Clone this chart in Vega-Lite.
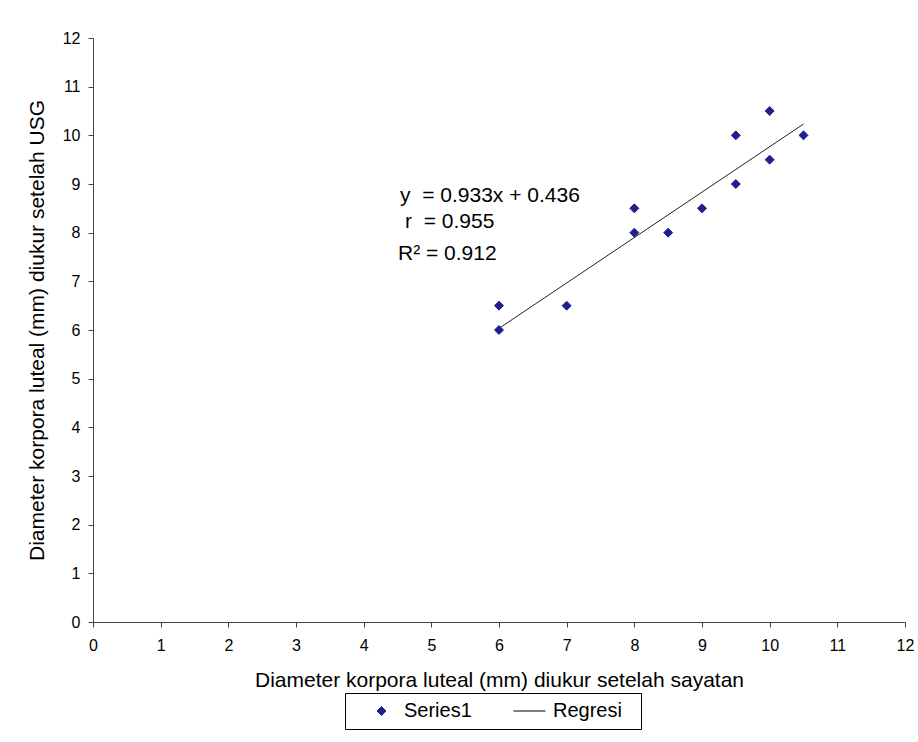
{
  "$schema": "https://vega.github.io/schema/vega-lite/v6.json",
  "autosize": {"type": "none"},
  "width": 812,
  "height": 584,
  "padding": {"left": 93, "top": 38, "right": 13, "bottom": 120},
  "background": "white",
  "config": {
    "font": "Liberation Sans",
    "view": {"stroke": null},
    "axis": {"grid": false, "domainColor": "#444444", "tickColor": "#444444", "labelColor": "black", "titleColor": "black", "labelFont": "Liberation Sans", "titleFont": "Liberation Sans", "labelFontSize": 16, "titleFontSize": 21, "titleFontWeight": "normal", "tickSize": 5, "labelFlush": false}
  },
  "datasets": {
    "pts": [
      {"x": 6, "y": 6.5, "series": "Series1"},
      {"x": 6, "y": 6, "series": "Series1"},
      {"x": 7, "y": 6.5, "series": "Series1"},
      {"x": 8, "y": 8.5, "series": "Series1"},
      {"x": 8, "y": 8, "series": "Series1"},
      {"x": 8.5, "y": 8, "series": "Series1"},
      {"x": 9, "y": 8.5, "series": "Series1"},
      {"x": 9.5, "y": 10, "series": "Series1"},
      {"x": 9.5, "y": 9, "series": "Series1"},
      {"x": 10, "y": 10.5, "series": "Series1"},
      {"x": 10, "y": 9.5, "series": "Series1"},
      {"x": 10.5, "y": 10, "series": "Series1"}
    ],
    "reg": [
      {"x": 6, "y": 6.034},
      {"x": 10.5, "y": 10.2325}
    ],
    "ann": [
      {"x": 4.537, "y": 8.63, "t": "y \u00a0= 0.933x + 0.436"},
      {"x": 4.611, "y": 8.096, "t": "r \u00a0= 0.955"},
      {"x": 4.507, "y": 7.438, "t": "R² = 0.912"}
    ]
  },
  "layer": [
    {
      "data": {"name": "reg"},
      "mark": {"type": "line", "color": "#222222", "strokeWidth": 1},
      "encoding": {
        "x": {"field": "x", "type": "quantitative", "scale": {"domain": [0, 12]}, "axis": {"values": [0,1,2,3,4,5,6,7,8,9,10,11,12], "format": "d", "title": "Diameter korpora luteal (mm) diukur setelah sayatan", "labelPadding": 10, "titlePadding": 16}},
        "y": {"field": "y", "type": "quantitative", "scale": {"domain": [0, 12]}, "axis": {"values": [0,1,2,3,4,5,6,7,8,9,10,11,12], "format": "d", "title": "Diameter korpora luteal (mm) diukur setelah USG", "labelPadding": 8, "titlePadding": 15}}
      }
    },
    {
      "data": {"name": "pts"},
      "mark": {"type": "point", "filled": true, "opacity": 1, "strokeWidth": 1, "size": 80},
      "encoding": {
        "x": {"field": "x", "type": "quantitative"},
        "y": {"field": "y", "type": "quantitative"},
        "fill": {"field": "series", "type": "nominal", "scale": {"domain": ["Series1", "Regresi"], "range": ["#1f1f8f", "#000000"]}, "legend": {"title": "\u00a0", "titleOrient": "right", "titlePadding": 11, "titleFontSize": 20, "orient": "none", "legendX": 252, "legendY": 655, "direction": "horizontal", "strokeColor": "black", "padding": 8, "labelFontSize": 20, "labelFont": "Liberation Sans", "labelColor": "black", "symbolStrokeWidth": 1, "symbolSize": 80, "columnPadding": 30, "labelOffset": 12.5, "symbolOffset": 18.5}},
        "stroke": {"field": "series", "type": "nominal", "scale": {"domain": ["Series1", "Regresi"], "range": ["#1f1f8f", "#000000"]}},
        "shape": {"field": "series", "type": "nominal", "scale": {"domain": ["Series1", "Regresi"], "range": ["diamond", "M-3.8,0L3.36,0"]}}
      }
    },
    {
      "data": {"name": "ann"},
      "mark": {"type": "text", "align": "left", "baseline": "alphabetic", "fontSize": 21, "font": "Liberation Sans", "color": "black"},
      "encoding": {
        "x": {"field": "x", "type": "quantitative"},
        "y": {"field": "y", "type": "quantitative"},
        "text": {"field": "t"}
      }
    }
  ]
}
